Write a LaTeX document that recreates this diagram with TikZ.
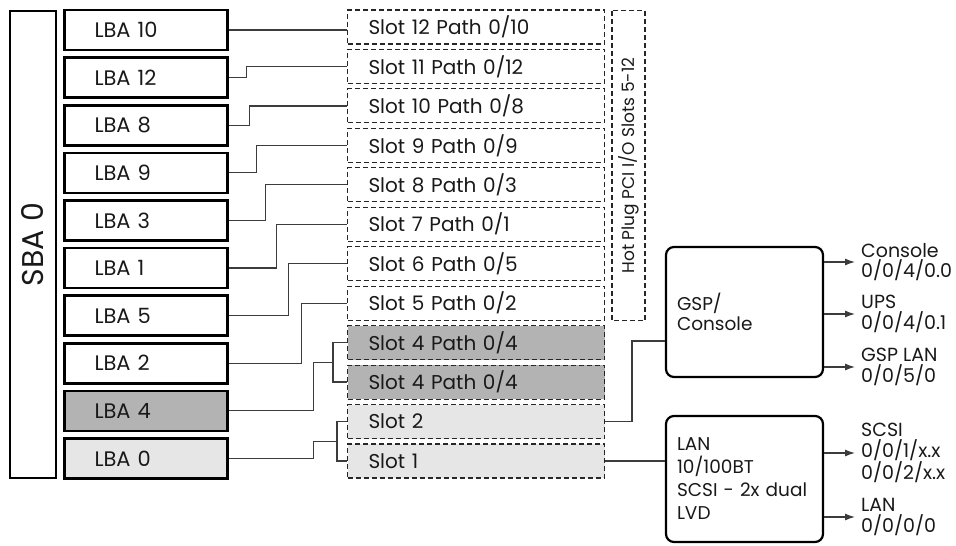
\documentclass[tikz,border=0pt]{standalone}
\usepackage{fontspec}
\setmainfont{Poppins}
\usetikzlibrary{calc}
\usetikzlibrary{arrows.meta}

\definecolor{darkfill}{HTML}{B3B3B3}
\definecolor{lightfill}{HTML}{E6E6E6}
\definecolor{wirecol}{HTML}{3C3C3C}

\begin{document}
\begin{tikzpicture}[x=1pt, y=-1pt,
        every node/.style={font=\fontsize{19}{20.5}\selectfont, text=black!90},
        lba/.style={draw, line width=2.6pt, minimum height=40pt, text width=103pt, inner xsep=30pt, align=left, font=\fontsize{21}{24}\selectfont},
        slot/.style={draw=black!85, dash pattern=on 5pt off 3pt, line width=1.1pt, minimum height=34pt, text width=215pt, inner xsep=21pt, align=left, font=\fontsize{20}{24}\selectfont},
        module/.style={draw, line width=2.2pt, rounded corners=8pt, text width=135pt, inner xsep=11pt, align=left},
        outlabel/.style={anchor=west, align=left, inner xsep=6pt},
        wire/.style={draw=wirecol, line width=1.2pt},
        outarrow/.style={wire, -{Latex[length=10pt, width=7pt]}}]
            \useasboundingbox (0,0) rectangle (956,546);

            \draw (33,244.5) node[draw, line width=2.6pt, rotate=90, minimum width=467pt, minimum height=46pt, font=\fontsize{30}{32}\selectfont] (sba) {SBA 0};

            \draw (146,30) node[lba] (lba10) {LBA 10};
            \draw ($(lba10) + (0,47.6)$) node[lba] (lba12) {LBA 12};
            \draw ($(lba12) + (0,47.6)$) node[lba] (lba8) {LBA 8};
            \draw ($(lba8) + (0,47.6)$) node[lba] (lba9) {LBA 9};
            \draw ($(lba9) + (0,47.6)$) node[lba] (lba3) {LBA 3};
            \draw ($(lba3) + (0,47.6)$) node[lba] (lba1) {LBA 1};
            \draw ($(lba1) + (0,47.6)$) node[lba] (lba5) {LBA 5};
            \draw ($(lba5) + (0,47.6)$) node[lba] (lba2) {LBA 2};
            \draw ($(lba2) + (0,47.6)$) node[lba, fill=darkfill] (lba4) {LBA 4};
            \draw ($(lba4) + (0,47.6)$) node[lba, fill=lightfill] (lba0) {LBA 0};

            \draw (476,27) node[slot] (slot12) {Slot 12 Path 0/10};
            \draw ($(slot12) + (0,39.45)$) node[slot] (slot11) {Slot 11 Path 0/12};
            \draw ($(slot11) + (0,39.45)$) node[slot] (slot10) {Slot 10 Path 0/8};
            \draw ($(slot10) + (0,39.45)$) node[slot] (slot9) {Slot 9 Path 0/9};
            \draw ($(slot9) + (0,39.45)$) node[slot] (slot8) {Slot 8 Path 0/3};
            \draw ($(slot8) + (0,39.45)$) node[slot] (slot7) {Slot 7 Path 0/1};
            \draw ($(slot7) + (0,39.45)$) node[slot] (slot6) {Slot 6 Path 0/5};
            \draw ($(slot6) + (0,39.45)$) node[slot] (slot5) {Slot 5 Path 0/2};
            \draw ($(slot5) + (0,39.45)$) node[slot, fill=darkfill] (slot4a) {Slot 4 Path 0/4};
            \draw ($(slot4a) + (0,39.45)$) node[slot, fill=darkfill] (slot4b) {Slot 4 Path 0/4};
            \draw ($(slot4b) + (0,39.45)$) node[slot, fill=lightfill] (slot2) {Slot 2};
            \draw ($(slot2) + (0,39.45)$) node[slot, fill=lightfill] (slot1) {Slot 1};

            \draw (628.5,165.5) node[draw=black!85, dash pattern=on 5pt off 3pt, line width=1.1pt, rotate=90, minimum width=310pt, minimum height=33pt, font=\fontsize{17}{20}\selectfont] (hotplug) {Hot Plug PCI I/O Slots 5-12};

            \draw (744.5,312) node[module, minimum height=130pt, font=\fontsize{18.5}{20.5}\selectfont] (gsp) {GSP/\\Console};
            \draw (744.5,479) node[module, minimum height=126pt, font=\fontsize{18.5}{23}\selectfont] (lan) {LAN\\10/100BT\\SCSI - 2x dual\\LVD};

            \draw[wire] (lba10.east) -- (lba10.east -| slot12.west);
            \draw[wire] (lba12.east) -- ++(18,0) |- (slot11.west);
            \draw[wire] (lba8.east) -- ++(21,0) |- (slot10.west);
            \draw[wire] (lba9.east) -- ++(28,0) |- (slot9.west);
            \draw[wire] (lba3.east) -- ++(37,0) |- (slot8.west);
            \draw[wire] (lba1.east) -- ++(48,0) |- (slot7.west);
            \draw[wire] (lba5.east) -- ++(60,0) |- (slot6.west);
            \draw[wire] (lba2.east) -- ++(73,0) |- (slot5.west);
            \draw[wire] (lba4.east) -- ++(85,0) |- ($(slot4a.west)!0.5!(slot4b.west) + (-14,0)$);
            \draw[wire] (slot4a.west) -- ++(-14,0) |- (slot4b.west);
            \draw[wire] (lba0.east) -- ++(85,0) |- ($(slot2.west)!0.5!(slot1.west) + (-10,0)$);
            \draw[wire] (slot2.west) -- ++(-10,0) |- (slot1.west);

            \draw[wire] (slot2.east) -- ++(27,0) |- ($(gsp.west) + (0,29)$);
            \draw[wire] (slot1.east) -- (slot1.east -| lan.west);

            \draw (855,262) node[outlabel] (console) {Console\\0/0/4/0.0};
            \draw (855,314) node[outlabel] (ups) {UPS\\0/0/4/0.1};
            \draw (855,367) node[outlabel] (gsplan) {GSP LAN\\0/0/5/0};
            \draw (855,453) node[outlabel] (scsi) {SCSI\\0/0/1/x.x\\0/0/2/x.x};
            \draw (855,517) node[outlabel] (lanport) {LAN\\0/0/0/0};

            \draw[outarrow] (gsp.east |- console.west) -- (console.west);
            \draw[outarrow] (gsp.east |- ups.west) -- (ups.west);
            \draw[outarrow] (gsp.east |- gsplan.west) -- (gsplan.west);
            \draw[outarrow] (lan.east |- scsi.west) -- (scsi.west);
            \draw[outarrow] (lan.east |- lanport.west) -- (lanport.west);
        \end{tikzpicture}
\end{document}
